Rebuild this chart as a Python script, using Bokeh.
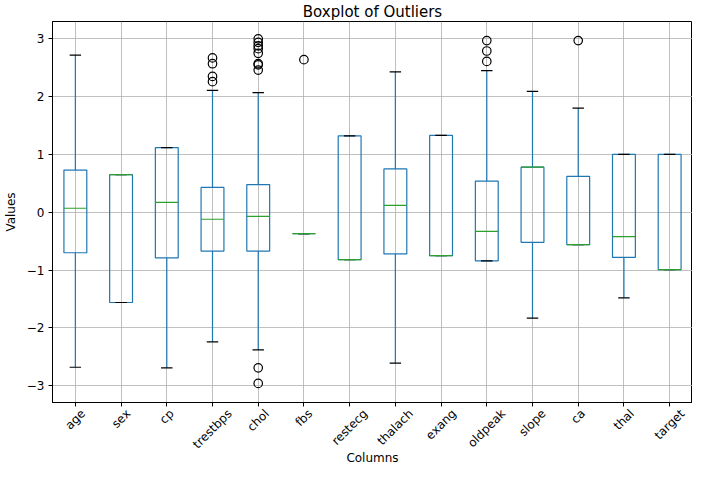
import math
from bokeh.plotting import figure
from bokeh.models import FixedTicker, Range1d, ColumnDataSource, LinearAxis
from bokeh.embed import file_html
from bokeh.resources import INLINE

columns = ["age", "sex", "cp", "trestbps", "chol", "fbs", "restecg",
           "thalach", "exang", "oldpeak", "slope", "ca", "thal", "target"]
q1 = [-0.70, -1.56, -0.79, -0.67, -0.67, -0.37, -0.82, -0.72, -0.75, -0.84, -0.52, -0.56, -0.78, -0.99]
median = [0.07, 0.65, 0.17, -0.12, -0.07, -0.37, -0.82, 0.12, -0.75, -0.33, 0.78, -0.56, -0.42, -0.99]
q3 = [0.73, 0.65, 1.12, 0.43, 0.48, -0.37, 1.32, 0.75, 1.33, 0.54, 0.78, 0.62, 1.00, 1.00]
whisker_low = [-2.68, -1.56, -2.69, -2.24, -2.38, -0.37, -0.82, -2.61, -0.75, -0.84, -1.83, -0.56, -1.48, -0.99]
whisker_high = [2.72, 0.65, 1.12, 2.11, 2.07, -0.37, 1.32, 2.43, 1.33, 2.45, 2.09, 1.80, 1.00, 1.00]
outliers = {
    "trestbps": [2.26, 2.35, 2.57, 2.67],
    "chol": [3.00, 2.94, 2.88, 2.83, 2.75, 2.57, 2.55, 2.46, -2.69, -2.96],
    "fbs": [2.64],
    "oldpeak": [2.61, 2.79, 2.97],
    "ca": [2.97],
}
y_ticks = [-3, -2, -1, 0, 1, 2, 3]

FONT = "DejaVu Sans"
FS = 12  # px

# approximate DejaVu Sans advance widths (em), used to centre the rotated labels under their ticks
_W = {"a": .613, "b": .635, "c": .550, "d": .635, "e": .615, "f": .352, "g": .635,
      "h": .634, "i": .278, "k": .579, "l": .278, "m": .974, "n": .634, "o": .612,
      "p": .635, "r": .411, "s": .521, "t": .392, "x": .592, "y": .592}


def text_w(s):
    return sum(_W.get(ch, .6) for ch in s) * FS


pos = list(range(1, len(columns) + 1))
box_w = 0.5
cap_w = 0.25
x_lo, x_hi = 0.5, 14.5
y_lo, y_hi = -3.29, 3.30
W, H = 692, 468
LEFT = 46
px_per_unit = (W - LEFT) / (x_hi - x_lo)

src = ColumnDataSource(dict(
    x=pos, q1=q1, q3=q3, med=median, lo=whisker_low, hi=whisker_high,
    x0=[p - box_w / 2 for p in pos], x1=[p + box_w / 2 for p in pos],
    c0=[p - cap_w / 2 for p in pos], c1=[p + cap_w / 2 for p in pos],
))

ox, oy = [], []
for name, vals in outliers.items():
    i = columns.index(name) + 1
    for v in vals:
        ox.append(i)
        oy.append(v)

p = figure(width=W, height=H, output_backend="svg", toolbar_location=None,
           x_range=Range1d(x_lo, x_hi), y_range=Range1d(y_lo, y_hi),
           title="Boxplot of Outliers", min_border_left=LEFT, min_border_right=0,
           min_border_top=20, min_border_bottom=0)

p.title.align = "center"
p.title.text_font = FONT
p.title.text_font_size = "15px"
p.title.text_font_style = "normal"
p.title.text_color = "#000000"
p.title.standoff = 1

p.outline_line_color = "#000000"
p.outline_line_width = 1
p.background_fill_color = "white"
p.border_fill_color = "white"

# primary x axis: tick marks only (labels are drawn by the label axis below)
p.xaxis.ticker = FixedTicker(ticks=pos)
p.xaxis.major_label_overrides = {i: "" for i in pos}
p.xaxis.major_label_standoff = 0
p.yaxis.ticker = FixedTicker(ticks=y_ticks)
p.yaxis.major_label_overrides = {t: ("\u2212%d" % -t if t < 0 else "%d" % t) for t in y_ticks}
for ax in (p.xaxis, p.yaxis):
    ax.axis_line_color = "#000000"
    ax.major_tick_line_color = "#000000"
    ax.major_tick_out = 4
    ax.major_tick_in = 0
    ax.minor_tick_line_color = None
    ax.major_label_text_font = FONT
    ax.major_label_text_font_size = "12px"
    ax.major_label_text_color = "#000000"
p.xaxis.major_label_text_font_size = "1px"
p.yaxis.major_label_standoff = 4
p.yaxis.axis_label = "Values"
p.yaxis.axis_label_standoff = 6
p.yaxis.axis_label_text_font = FONT
p.yaxis.axis_label_text_font_size = "12px"
p.yaxis.axis_label_text_font_style = "normal"
p.yaxis.axis_label_text_color = "#000000"

# label axis: rotated category names, shifted so each rotated name is centred on its tick
shift = [text_w(c) / (2 * math.sqrt(2)) / px_per_unit for c in columns]
lab_ticks = [i + s for i, s in zip(pos, shift)]
lab_axis = LinearAxis(ticker=FixedTicker(ticks=lab_ticks),
                      major_label_overrides={t: c for t, c in zip(lab_ticks, columns)})
lab_axis.major_label_orientation = math.pi / 4
lab_axis.axis_line_color = None
lab_axis.major_tick_line_color = None
lab_axis.minor_tick_line_color = None
lab_axis.major_tick_out = 0
lab_axis.major_tick_in = 0
lab_axis.major_label_standoff = 5
lab_axis.major_label_text_font = FONT
lab_axis.major_label_text_font_size = "12px"
lab_axis.major_label_text_color = "#000000"
lab_axis.axis_label = "Columns"
lab_axis.axis_label_standoff = -8
lab_axis.axis_label_text_font = FONT
lab_axis.axis_label_text_font_size = "12px"
lab_axis.axis_label_text_font_style = "normal"
lab_axis.axis_label_text_color = "#000000"
p.add_layout(lab_axis, "below")

p.xgrid.ticker = FixedTicker(ticks=pos)
p.ygrid.ticker = FixedTicker(ticks=y_ticks)
p.grid.grid_line_color = "#b0b0b0"
p.grid.grid_line_width = 0.8

BLUE = "#1f77b4"
GREEN = "#2ca02c"

# boxes
p.quad(left="x0", right="x1", bottom="q1", top="q3", source=src,
       fill_color=None, line_color=BLUE, line_width=1.2)
# whiskers
p.segment(x0="x", y0="q3", x1="x", y1="hi", source=src, line_color=BLUE, line_width=1.2)
p.segment(x0="x", y0="q1", x1="x", y1="lo", source=src, line_color=BLUE, line_width=1.2)
# caps
p.segment(x0="c0", y0="hi", x1="c1", y1="hi", source=src, line_color="#000000", line_width=1.2)
p.segment(x0="c0", y0="lo", x1="c1", y1="lo", source=src, line_color="#000000", line_width=1.2)
# medians
p.segment(x0="x0", y0="med", x1="x1", y1="med", source=src, line_color=GREEN, line_width=1.2)
# fliers
p.scatter(ox, oy, marker="circle", size=8.5, fill_color=None, line_color="#000000", line_width=1.2)

open("out.html", "w").write(file_html(p, INLINE))
